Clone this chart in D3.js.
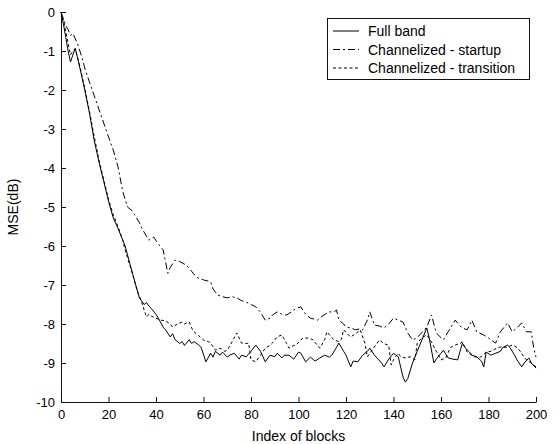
<!DOCTYPE html>
<html>
<head>
<meta charset="utf-8">
<script src="https://cdn.jsdelivr.net/npm/d3@7"></script>
<style>
  body { margin: 0; background: #fff; }
  svg { display: block; font-family: "Liberation Sans", Arial, sans-serif; }
</style>
</head>
<body>
<svg width="559" height="444"></svg>
<script>
(function(d3) {
    'use strict';

    // values: [block index, MSE in dB]
    const fullBand = [
        [0,0],[1,-0.3],[2,-0.65],[3,-1.0],[4,-1.28],[5,-1.1],[6,-0.93],[8,-1.45],[10,-2.0],[12,-2.6],
        [14,-3.3],[16,-3.85],[18,-4.35],[20,-4.85],[22,-5.28],[24,-5.55],[26,-5.85],[27,-6.0],[29,-6.45],
        [31,-6.9],[33,-7.33],[35,-7.5],[36,-7.45],[37,-7.54],[38,-7.6],[40,-7.75],[41,-7.85],[43,-8.08],
        [44,-8.15],[46,-8.33],[47,-8.25],[48,-8.4],[50,-8.5],[51,-8.45],[52,-8.55],[54,-8.4],[55,-8.5],
        [56,-8.45],[58,-8.54],[59,-8.6],[61,-8.97],[63,-8.75],[64,-8.85],[65,-8.7],[67,-8.8],[68,-8.72],
        [70,-8.85],[71,-8.8],[73,-8.75],[75,-8.9],[76,-8.8],[78,-8.84],[80,-8.7],[82,-8.54],[84,-8.7],
        [86,-8.97],[88,-8.8],[90,-8.84],[91,-8.75],[93,-8.87],[94,-8.8],[96,-8.8],[98,-8.9],[100,-8.72],
        [101,-8.75],[103,-8.97],[105,-8.85],[107,-8.95],[109,-8.87],[111,-8.8],[113,-8.85],[114,-8.8],
        [116,-8.6],[117,-8.49],[119,-8.7],[120,-8.8],[122,-9.1],[123,-8.95],[125,-8.97],[127,-8.8],
        [129,-8.7],[130,-8.62],[132,-8.8],[133,-8.87],[135,-9.0],[136,-9.1],[138,-8.9],[140,-8.75],
        [142,-8.84],[143,-9.1],[144,-9.36],[145,-9.49],[146,-9.4],[148,-9.0],[150,-8.7],[152,-8.4],
        [154,-8.1],[155,-8.35],[157,-9.0],[158,-8.9],[160,-8.75],[161,-8.67],[163,-8.87],[165,-8.9],
        [167,-8.92],[169,-8.49],[170,-8.6],[172,-8.72],[173,-8.8],[175,-8.84],[177,-8.95],[178,-9.1],
        [179,-8.72],[181,-8.8],[183,-8.75],[185,-8.7],[186,-8.6],[188,-8.54],[189,-8.6],[191,-8.8],
        [192,-8.92],[194,-9.1],[195,-9.0],[197,-8.87],[198,-9.0],[200,-9.13]
    ];

    const startup = [
        [0,0],[2,-0.35],[3,-0.45],[4,-0.6],[5,-0.55],[7,-0.82],[9,-1.2],[10,-1.44],[12,-1.8],[14,-2.15],
        [16,-2.5],[18,-2.85],[20,-3.2],[22,-3.54],[24,-3.97],[26,-4.6],[28,-5.0],[30,-5.1],[31,-5.2],
        [33,-5.4],[34,-5.54],[36,-5.75],[37,-5.85],[39,-5.77],[41,-5.95],[43,-6.1],[44,-6.4],[45,-6.7],
        [46,-6.55],[48,-6.36],[50,-6.4],[53,-6.5],[55,-6.65],[57,-6.8],[60,-6.87],[62,-6.9],[63,-6.92],
        [64,-7.1],[66,-7.26],[68,-7.3],[70,-7.33],[72,-7.3],[74,-7.33],[76,-7.4],[78,-7.44],[80,-7.5],
        [82,-7.56],[84,-7.7],[86,-7.9],[88,-7.85],[89,-7.77],[91,-7.69],[93,-7.75],[95,-7.77],[97,-7.69],
        [99,-7.6],[101,-7.56],[103,-7.75],[105,-7.85],[107,-7.88],[108,-7.9],[110,-7.8],[112,-7.72],
        [113,-7.69],[115,-7.69],[116,-7.64],[117,-7.9],[119,-8.0],[120,-8.08],[122,-8.1],[124,-8.15],
        [126,-8.12],[127,-8.15],[129,-7.9],[130,-7.69],[132,-8.03],[134,-8.05],[136,-8.1],[138,-8.0],
        [140,-7.85],[142,-7.9],[144,-7.95],[146,-8.23],[148,-8.41],[150,-8.35],[151,-8.28],[153,-8.15],
        [154,-8.08],[156,-7.77],[158,-8.23],[160,-8.35],[161,-8.41],[163,-8.2],[165,-8.0],[166,-7.9],
        [168,-8.05],[169,-8.1],[171,-8.15],[173,-7.9],[175,-8.2],[178,-8.28],[180,-8.36],[183,-8.49],
        [185,-8.2],[187,-8.05],[188,-7.97],[190,-8.2],[192,-8.1],[194,-7.97],[196,-8.2],[198,-8.2],
        [199,-8.6],[200,-8.85]
    ];

    const transition = [
        [0,0],[1,-0.2],[2,-0.5],[3,-0.8],[4,-1.1],[5,-1.0],[6,-0.95],[8,-1.4],[10,-1.95],[12,-2.55],
        [14,-3.2],[16,-3.8],[18,-4.3],[20,-4.8],[22,-5.2],[24,-5.5],[26,-5.85],[27,-6.1],[29,-6.5],
        [31,-6.9],[32,-7.13],[34,-7.45],[35,-7.64],[36,-7.82],[37,-7.75],[38,-7.8],[40,-7.85],[42,-7.9],
        [44,-7.92],[46,-8.0],[47,-8.08],[49,-8.0],[51,-7.95],[52,-8.0],[53,-7.97],[54,-7.95],[55,-8.1],
        [56,-8.2],[58,-8.3],[60,-8.41],[62,-8.45],[63,-8.49],[65,-8.67],[67,-8.62],[69,-8.7],[70,-8.67],
        [72,-8.46],[74,-8.23],[76,-8.49],[78,-8.5],[79,-8.49],[80,-8.92],[82,-8.97],[84,-8.8],[86,-8.62],
        [88,-8.55],[89,-8.49],[91,-8.33],[93,-8.28],[95,-8.5],[96,-8.62],[98,-8.55],[99,-8.54],[101,-8.4],
        [102,-8.36],[104,-8.36],[106,-8.4],[108,-8.55],[109,-8.62],[111,-8.4],[112,-8.2],[114,-8.35],
        [115,-8.41],[117,-8.45],[118,-8.4],[119,-8.15],[121,-8.28],[122,-8.33],[124,-8.25],[126,-8.15],
        [128,-8.5],[129,-8.84],[131,-8.67],[133,-8.5],[134,-8.41],[136,-8.5],[138,-8.55],[139,-9.05],
        [140,-8.92],[142,-8.75],[143,-8.84],[145,-8.87],[147,-8.84],[149,-8.92],[150,-8.49],[152,-8.35],
        [154,-8.28],[156,-8.46],[158,-8.7],[160,-8.92],[162,-8.87],[164,-8.6],[166,-8.54],[168,-8.5],
        [169,-8.46],[171,-8.72],[173,-8.8],[174,-8.84],[176,-8.85],[177,-8.84],[179,-8.72],[181,-8.7],
        [182,-8.67],[184,-8.6],[185,-8.59],[187,-8.6],[188,-8.59],[190,-8.54],[192,-8.6],[193,-8.67],
        [195,-8.85],[196,-8.92],[198,-9.0],[199,-9.05],[200,-9.1]
    ];

    const seriesNames = ['Full band', 'Channelized - startup', 'Channelized - transition'];
    const seriesDash = [null, '7,3,2,3', '3,2.5'];
    const xTicks = [0, 20, 40, 60, 80, 100, 120, 140, 160, 180, 200];
    const yTicks = [0, -1, -2, -3, -4, -5, -6, -7, -8, -9, -10];

    const svg = d3.select('svg');
    const margin = { left: 61, top: 12, right: 23, bottom: 42 };
    const width = 559 - margin.left - margin.right;
    const height = 444 - margin.top - margin.bottom;

    const x = d3.scaleLinear().domain([0, 200]).range([0, width]);
    const y = d3.scaleLinear().domain([-10, 0]).range([height, 0]);

    const g = svg.append('g')
        .attr('transform', `translate(${margin.left},${margin.top})`);

    // matlab style: ticks point inward, plain hyphen minus
    const xAxis = d3.axisBottom(x).tickValues(xTicks).tickSizeInner(-5).tickSizeOuter(0).tickPadding(10)
        .tickFormat(d => String(d));
    const yAxis = d3.axisLeft(y).tickValues(yTicks).tickSizeInner(-5).tickSizeOuter(0).tickPadding(10)
        .tickFormat(d => String(d));

    const xG = g.append('g')
        .attr('transform', `translate(0,${height})`)
        .call(xAxis);
    const yG = g.append('g').call(yAxis);

    [xG, yG].forEach(a => {
        a.selectAll('text').attr('fill', '#000').attr('font-size', 13).attr('font-family', '"Liberation Sans", Arial, sans-serif');
        a.selectAll('line, path').attr('stroke', '#111');
    });
    yG.selectAll('text').attr('x', -6).attr('dy', '0.36em');
    xG.selectAll('text').attr('y', 8);

    const line = d3.line()
        .x(d => x(d[0]))
        .y(d => y(d[1]));

    [fullBand, startup, transition].forEach((data, i) => {
        g.append('path')
            .datum(data)
            .attr('fill', 'none')
            .attr('stroke', '#000')
            .attr('stroke-width', 1)
            .attr('stroke-dasharray', seriesDash[i])
            .attr('d', line);
    });

    // axis titles
    svg.append('text')
        .attr('x', margin.left + width / 2)
        .attr('y', 441)
        .attr('text-anchor', 'middle')
        .attr('font-size', 14)
        .text('Index of blocks');

    svg.append('text')
        .attr('transform', `translate(18,${margin.top + height / 2}) rotate(-90)`)
        .attr('text-anchor', 'middle')
        .attr('font-size', 14)
        .text('MSE(dB)');

    // legend
    const legendG = svg.append('g').attr('transform', 'translate(327,18)');
    legendG.append('rect')
        .attr('x', 0.5).attr('y', 0.5)
        .attr('width', 202).attr('height', 61)
        .attr('fill', '#fff')
        .attr('stroke', '#111');

    const items = legendG.selectAll('.item')
        .data(seriesNames)
        .enter().append('g')
        .attr('class', 'item')
        .attr('transform', (d, i) => `translate(0,${13 + i * 18.5})`);

    items.append('line')
        .attr('x1', 6).attr('x2', 32)
        .attr('stroke', '#000')
        .attr('stroke-dasharray', (d, i) => seriesDash[i]);

    items.append('text')
        .attr('x', 41)
        .attr('dy', '0.36em')
        .attr('font-size', 14)
        .text(d => d);

}(d3));
</script>
</body>
</html>
